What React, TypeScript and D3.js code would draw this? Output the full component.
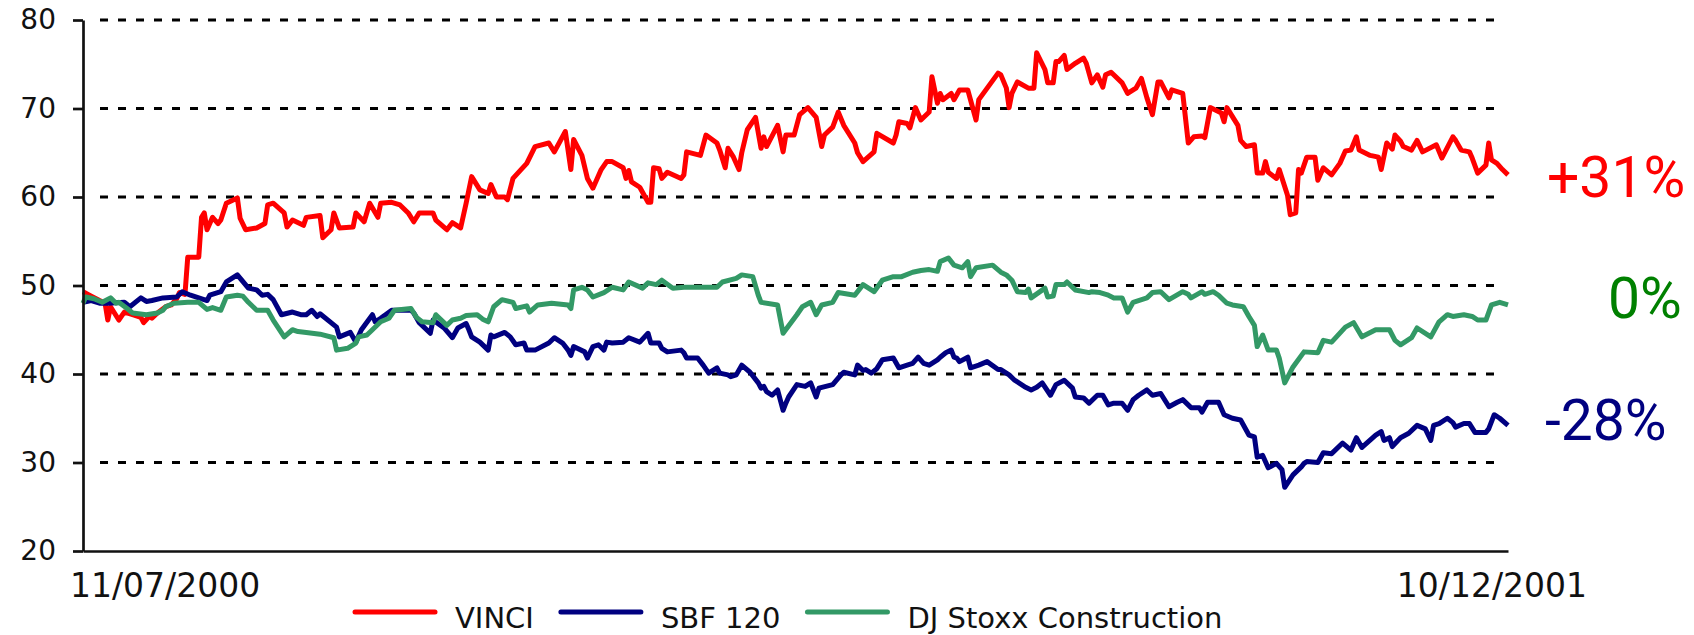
import React, { useEffect, useRef } from 'react';
import * as d3 from 'd3';

const startDate = new Date(2000, 6, 11);
const endDate = new Date(2001, 11, 10);

// points are [days since 11/07/2000, value]
const vinci: [number, number][] = [
  [0,49.3],[3,48.8],[6,48.3],[8,48.0],[9,46.1],[10,47.6],[13,46.1],[15,47.0],[18,46.7],[21,46.4],[22,45.8],[24,46.5],[25,46.3],[27,46.9],[30,47.6],[32,47.8],[34,48.5],[35,49.2],[37,49.0],[38,53.2],[42,53.2],[43,57.7],[44,58.2],[45,56.3],[47,57.7],[49,57.0],[50,57.4],[52,59.3],[56,59.9],[57,57.6],[59,56.3],[63,56.5],[66,57.0],[67,59.1],[69,59.3],[73,58.2],[74,56.6],[76,57.4],[80,56.8],[81,57.7],[86,57.9],[87,55.4],[90,56.3],[91,58.2],[93,56.5],[98,56.6],[99,58.2],[102,57.2],[104,59.3],[107,57.7],[108,59.3],[112,59.4],[115,59.1],[118,58.2],[120,57.2],[122,58.2],[127,58.2],[128,57.4],[132,56.3],[134,57.1],[137,56.5],[139,59.3],[141,62.3],[144,60.8],[147,60.4],[148,61.4],[150,60.0],[153,60.0],[154,59.7],[156,62.1],[161,63.8],[164,65.7],[169,66.1],[171,65.1],[175,67.4],[177,63.1],[178,66.5],[181,64.7],[183,62.1],[185,61.0],[188,63.1],[190,64.0],[192,64.0],[196,63.3],[197,62.1],[198,63.0],[199,61.7],[202,61.1],[205,59.4],[206,59.4],[207,63.3],[209,63.2],[210,62.1],[212,62.8],[217,62.1],[218,62.5],[219,65.1],[224,64.7],[226,67.0],[230,66.1],[231,65.3],[233,63.3],[234,65.5],[236,64.5],[238,63.1],[239,65.0],[241,67.6],[244,69.0],[246,65.5],[247,66.8],[248,65.7],[252,68.1],[254,65.1],[255,67.0],[258,67.0],[260,69.3],[263,70.1],[266,69.0],[268,65.7],[269,67.0],[272,67.9],[274,69.6],[276,68.1],[280,66.1],[281,65.0],[283,64.0],[287,65.1],[288,67.2],[294,66.1],[295,67.0],[296,68.5],[299,68.3],[300,67.8],[302,70.1],[304,68.7],[307,69.6],[308,73.6],[310,70.6],[311,71.7],[312,71.0],[315,71.7],[316,71.0],[318,72.1],[321,72.1],[324,68.7],[325,71.0],[332,74.0],[333,73.8],[335,72.3],[336,70.1],[337,71.7],[339,73.0],[343,72.3],[345,72.3],[346,76.3],[349,74.4],[350,72.9],[352,72.9],[353,75.3],[354,75.3],[356,76.0],[357,74.4],[360,75.1],[363,75.7],[364,75.1],[366,72.9],[368,73.8],[370,72.4],[371,73.8],[373,74.1],[377,72.9],[379,71.7],[382,72.3],[384,73.4],[386,71.2],[388,69.3],[390,73.0],[391,73.0],[394,71.2],[395,72.1],[399,71.7],[401,66.1],[403,66.8],[406,66.9],[407,66.7],[409,70.1],[413,69.5],[414,68.5],[415,70.1],[419,68.1],[420,66.4],[422,65.7],[425,65.9],[426,62.7],[428,62.7],[429,64.0],[430,62.8],[433,62.1],[434,63.1],[437,60.2],[438,58.0],[440,58.2],[441,63.1],[442,62.7],[444,64.5],[447,64.5],[448,61.9],[450,63.3],[453,62.5],[456,63.8],[458,65.2],[460,65.3],[462,66.8],[463,65.3],[467,64.7],[470,64.5],[471,63.1],[473,66.1],[475,65.4],[476,67.0],[478,66.3],[479,65.7],[482,65.3],[484,66.4],[486,65.1],[491,65.9],[493,64.4],[497,66.8],[498,66.4],[500,65.3],[503,65.1],[504,64.4],[506,62.7],[509,63.6],[510,66.1],[511,64.2],[513,63.8],[515,63.1],[517,62.5],
];

const sbf120: [number, number][] = [
  [0,48.1],[3,48.3],[6,48.0],[9,48.0],[15,48.1],[17,47.6],[21,48.6],[23,48.2],[25,48.3],[29,48.6],[34,48.7],[36,49.3],[39,48.9],[42,48.6],[45,48.3],[46,48.9],[50,49.3],[52,50.4],[56,51.2],[60,49.7],[63,49.5],[65,48.9],[67,49.0],[69,48.4],[72,46.7],[76,47.0],[79,46.7],[81,46.7],[83,47.2],[85,46.5],[86,46.8],[92,45.3],[93,44.2],[97,44.7],[99,43.6],[101,45.0],[105,46.7],[106,45.9],[108,46.3],[112,47.2],[119,47.2],[120,46.9],[122,45.8],[126,44.6],[127,46.1],[131,45.2],[134,44.1],[136,45.2],[139,45.7],[140,45.0],[141,44.2],[144,43.6],[147,42.7],[148,44.4],[149,44.2],[153,44.7],[155,44.2],[157,43.3],[160,43.5],[161,42.7],[164,42.7],[169,43.5],[171,44.1],[174,43.5],[176,42.7],[177,42.1],[178,43.1],[182,42.5],[183,41.8],[185,43.1],[187,43.3],[189,42.7],[190,43.6],[192,43.5],[196,43.6],[198,44.1],[202,43.6],[205,44.6],[206,43.5],[209,43.5],[210,42.9],[212,42.5],[217,42.7],[218,42.4],[219,41.8],[223,41.8],[225,41.0],[227,40.1],[230,40.7],[231,40.1],[234,39.9],[235,39.7],[237,39.9],[239,41.0],[242,40.2],[245,39.0],[246,38.4],[247,38.6],[248,38.0],[250,37.6],[252,38.2],[254,35.9],[255,36.7],[256,37.4],[259,38.8],[262,38.6],[264,39.0],[266,37.4],[267,38.4],[272,38.8],[275,39.9],[276,40.2],[280,39.9],[281,41.0],[283,40.4],[284,40.5],[286,40.1],[288,40.6],[290,41.6],[294,41.8],[296,40.7],[299,41.0],[301,41.2],[303,41.9],[305,41.2],[307,41.0],[310,41.6],[311,41.9],[313,42.4],[315,42.7],[316,41.9],[317,41.8],[318,41.4],[321,41.9],[322,40.7],[325,41.0],[328,41.4],[332,40.5],[333,40.5],[336,39.9],[338,39.3],[342,38.5],[344,38.2],[346,38.5],[348,39.0],[351,37.6],[353,38.8],[356,39.3],[359,38.4],[360,37.4],[363,37.3],[365,36.7],[368,37.6],[370,37.6],[372,36.5],[374,36.7],[377,36.7],[379,35.9],[381,37.1],[383,37.6],[386,38.2],[388,37.6],[391,37.8],[394,36.3],[397,36.8],[399,37.1],[402,36.2],[405,36.2],[406,35.7],[408,36.8],[412,36.8],[414,35.4],[417,35.0],[420,34.8],[423,33.1],[425,32.9],[426,30.6],[428,30.8],[430,29.4],[433,29.9],[435,29.2],[436,27.2],[439,28.6],[442,29.5],[443,29.9],[444,30.1],[448,30.0],[450,31.1],[453,31.0],[457,32.2],[460,31.4],[462,32.8],[464,31.7],[469,33.1],[471,33.5],[472,32.5],[474,32.8],[475,31.8],[478,32.8],[481,33.3],[484,34.2],[487,33.8],[489,32.5],[490,34.2],[492,34.4],[495,35.0],[497,34.5],[498,34.0],[501,34.4],[503,34.4],[505,33.4],[509,33.4],[510,33.8],[512,35.4],[514,35.0],[517,34.2],
];

const djStoxx: [number, number][] = [
  [0,48.0],[1,48.7],[4,48.5],[7,48.1],[10,48.6],[12,48.0],[13,48.1],[16,47.4],[18,46.9],[23,46.7],[27,46.9],[29,47.2],[30,47.6],[33,48.0],[38,48.1],[42,48.1],[45,47.3],[47,47.5],[50,47.2],[52,48.7],[56,48.9],[58,48.8],[60,48.1],[63,47.2],[67,47.2],[69,46.1],[73,44.2],[76,45.0],[78,44.8],[81,44.7],[86,44.5],[91,44.1],[92,42.7],[96,42.9],[99,43.5],[100,44.2],[103,44.4],[105,45.0],[108,45.9],[111,46.3],[113,47.2],[119,47.4],[121,46.4],[123,45.9],[127,45.8],[128,46.7],[132,45.5],[134,46.1],[137,46.3],[139,46.6],[143,46.7],[145,46.2],[147,45.9],[149,47.6],[152,48.4],[156,48.1],[157,47.4],[161,47.7],[162,47.0],[165,47.8],[170,48.0],[176,47.8],[177,47.4],[178,49.5],[181,49.8],[183,49.5],[185,48.7],[189,49.2],[192,49.8],[196,49.5],[198,50.4],[203,49.7],[205,50.3],[208,50.1],[210,50.6],[214,49.7],[218,49.8],[230,49.8],[232,50.4],[237,50.8],[239,51.2],[243,51.0],[245,48.9],[246,48.1],[252,47.8],[254,44.6],[259,46.7],[261,47.6],[264,48.1],[266,46.7],[268,47.8],[272,48.1],[274,49.2],[280,48.9],[283,50.1],[287,49.3],[290,50.6],[294,51.0],[297,51.0],[301,51.5],[304,51.7],[307,51.8],[310,51.6],[311,52.7],[314,53.1],[316,52.3],[319,52.0],[321,52.7],[322,51.0],[324,52.0],[330,52.3],[333,51.5],[335,51.2],[337,50.6],[339,49.3],[342,49.2],[343,49.6],[344,48.6],[349,49.7],[350,48.7],[352,48.8],[353,50.1],[356,50.1],[357,50.4],[360,49.5],[365,49.2],[366,49.3],[369,49.2],[372,48.9],[374,48.6],[377,48.6],[379,47.0],[381,48.1],[386,48.6],[388,49.2],[391,49.3],[394,48.4],[399,49.3],[401,49.0],[402,48.6],[406,49.3],[407,49.0],[410,49.3],[412,48.9],[415,48.0],[417,47.8],[421,47.6],[423,46.5],[425,45.5],[426,43.1],[428,44.4],[430,42.7],[433,42.7],[434,41.8],[436,39.0],[439,40.8],[443,42.5],[448,42.4],[450,43.8],[453,43.6],[458,45.3],[461,45.8],[464,44.2],[469,45.0],[474,45.0],[476,43.8],[478,43.3],[482,44.1],[484,45.2],[489,44.2],[492,45.9],[495,46.7],[497,46.5],[501,46.7],[504,46.5],[506,46.1],[509,46.1],[511,47.8],[514,48.1],[517,47.8],
];

const seriesNames = ['VINCI', 'SBF 120', 'DJ Stoxx Construction'];
const seriesColors = ['#ff0000', '#000080', '#339966'];
const yTicks = [20, 30, 40, 50, 60, 70, 80];
const xLabels = ['11/07/2000', '10/12/2001'];
const perfLabels = ['+31%', '0%', '-28%'];
const perfColors = ['#ff0000', '#008000', '#000080'];

const W = 1694;
const H = 635;
const font = '"DejaVu Sans", Verdana, sans-serif';

export default function App() {
  const ref = useRef<SVGSVGElement>(null);

  useEffect(() => {
    const svg = d3.select(ref.current);
    svg.selectAll('*').remove();

    const x = d3.scaleTime().domain([startDate, endDate]).range([83, 1508]);
    const y = d3.scaleLinear().domain([20, 80]).range([551, 20]);

    // dashed gridlines
    svg.append('g')
      .selectAll('line')
      .data(yTicks.filter((t) => t > 20))
      .join('line')
      .attr('x1', 92)
      .attr('x2', 1500)
      .attr('y1', (d) => y(d))
      .attr('y2', (d) => y(d))
      .attr('stroke', '#000')
      .attr('stroke-width', 3.2)
      .attr('stroke-dasharray', '8,10')
      .attr('stroke-dashoffset', 10);

    // series
    const line = d3.line<[number, number]>()
      .x((d) => x(d3.timeDay.offset(startDate, d[0])))
      .y((d) => y(d[1]));

    [vinci, sbf120, djStoxx].forEach((s, i) => {
      svg.append('path')
        .attr('d', line(s))
        .attr('fill', 'none')
        .attr('stroke', seriesColors[i])
        .attr('stroke-width', 5)
        .attr('stroke-linejoin', 'round');
    });

    // axes
    const yAxis = svg.append('g')
      .attr('transform', 'translate(83,0)')
      .call(d3.axisLeft(y).tickValues(yTicks).tickSize(10).tickSizeOuter(0).tickPadding(17).tickFormat(d3.format('d')));
    yAxis.attr('font-family', font).attr('font-size', 28).style('color', '#111');
    yAxis.selectAll('line').attr('stroke-width', 2.7);
    yAxis.select('.domain').attr('stroke-width', 2.7);

    const xAxis = svg.append('g')
      .attr('transform', 'translate(0,551)')
      .call(d3.axisBottom(x).tickValues([]).tickSizeOuter(0));
    xAxis.style('color', '#111');
    xAxis.select('.domain').attr('stroke-width', 2.7);

    svg.append('text')
      .attr('x', x(startDate) - 13)
      .attr('y', 597)
      .attr('font-family', font)
      .attr('font-size', 33)
      .attr('fill', '#111')
      .text(xLabels[0]);
    svg.append('text')
      .attr('x', x(endDate) + 79)
      .attr('y', 597)
      .attr('text-anchor', 'end')
      .attr('font-family', font)
      .attr('font-size', 33)
      .attr('fill', '#111')
      .text(xLabels[1]);

    // performance labels
    const perfPos = [[1547, 197], [1608, 318], [1545, 440]];
    perfLabels.forEach((t, i) => {
      svg.append('text')
        .attr('x', perfPos[i][0])
        .attr('y', perfPos[i][1])
        .attr('font-family', 'Roboto, sans-serif')
        .attr('font-size', 57)
        .attr('fill', perfColors[i])
        .text(t);
    });

    // legend
    let lx = 353;
    seriesNames.forEach((name, i) => {
      svg.append('line')
        .attr('x1', lx + 2).attr('x2', lx + 82)
        .attr('y1', 612).attr('y2', 612)
        .attr('stroke', seriesColors[i])
        .attr('stroke-width', 5)
        .attr('stroke-linecap', 'round');
      const txt = svg.append('text')
        .attr('x', lx + 102)
        .attr('y', 628)
        .attr('font-family', font)
        .attr('font-size', 29)
        .attr('fill', '#111')
        .text(name);
      const w = (txt.node() as SVGTextElement).getComputedTextLength();
      lx = lx + 102 + w + 25;
    });
  }, []);

  return (
    <svg
      ref={ref}
      width={W}
      height={H}
      style={{ position: 'absolute', left: 0, top: 0, display: 'block', background: '#fff' }}
    />
  );
}
